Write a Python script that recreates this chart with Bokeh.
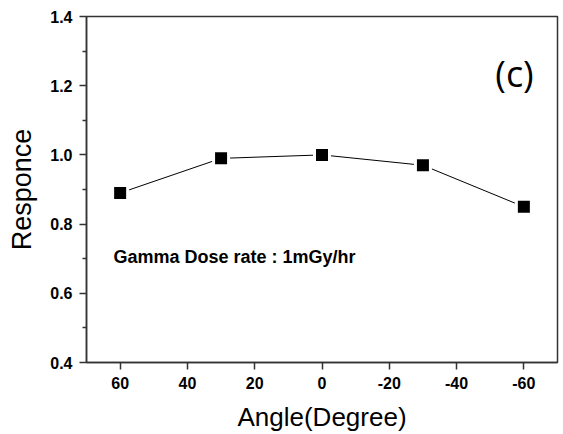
from bokeh.plotting import figure
from bokeh.models import Range1d, FixedTicker, PrintfTickFormatter, Label
from bokeh.embed import file_html
from bokeh.resources import INLINE

angles = [60, 30, 0, -30, -60]
response = [0.89, 0.99, 1.00, 0.97, 0.85]
x_ticks = [60, 40, 20, 0, -20, -40, -60]
y_ticks = [0.4, 0.6, 0.8, 1.0, 1.2, 1.4]
y_minor = [0.5, 0.7, 0.9, 1.1, 1.3]
annotation = "Gamma Dose rate : 1mGy/hr"
panel_tag = "(c)"

p = figure(width=560, height=434, output_backend="svg", toolbar_location=None,
           x_range=Range1d(70, -70), y_range=Range1d(0.4, 1.4),
           min_border_left=86, min_border_top=16, min_border_right=3, min_border_bottom=71)

p.xgrid.visible = False
p.ygrid.visible = False
p.outline_line_color = "#333333"
p.outline_line_width = 1.5
p.outline_line_alpha = 1.0

p.xaxis.ticker = FixedTicker(ticks=x_ticks, minor_ticks=[])
p.yaxis.ticker = FixedTicker(ticks=y_ticks, minor_ticks=y_minor)
p.yaxis.formatter = PrintfTickFormatter(format="%.1f")
p.xaxis.formatter = PrintfTickFormatter(format="%d")

for ax in (p.xaxis[0], p.yaxis[0]):
    ax.axis_line_color = "#333333"
    ax.axis_line_width = 1.5
    ax.major_tick_line_color = "#333333"
    ax.major_tick_line_width = 1.5
    ax.minor_tick_line_color = "#333333"
    ax.minor_tick_line_width = 1.5
    ax.major_tick_out = 7
    ax.major_tick_in = 0
    ax.minor_tick_out = 4
    ax.minor_tick_in = 0
    ax.major_label_text_font = "Liberation Sans"
    ax.major_label_text_font_style = "bold"
    ax.major_label_text_font_size = "16px"
    ax.major_label_text_color = "black"
    ax.axis_label_text_font = "Liberation Sans"
    ax.axis_label_text_font_style = "normal"
    ax.axis_label_text_color = "black"

p.xaxis.axis_label = "Angle(Degree)"
p.yaxis.axis_label = "Responce"
p.xaxis.axis_label_text_font_size = "26px"
p.yaxis.axis_label_text_font_size = "27px"
p.xaxis.major_label_standoff = 7
p.yaxis.major_label_standoff = 7
p.xaxis.axis_label_standoff = 10
p.yaxis.axis_label_standoff = 10

p.line(angles, response, line_color="black", line_width=1)
p.scatter(angles, response, marker="square", size=18, fill_color="white", line_color=None)
p.scatter(angles, response, marker="square", size=12, fill_color="black", line_color=None)

p.add_layout(Label(x=62, y=0.705, text=annotation, text_font="Liberation Sans",
                   text_font_style="bold", text_font_size="18px", text_color="black",
                   text_baseline="middle", text_align="left"))
p.add_layout(Label(x=-51.5, y=1.235, text=panel_tag, text_font="Open Sans",
                   text_font_size="36px", text_color="black",
                   text_baseline="middle", text_align="left"))

open("out.html", "w").write(file_html(p, INLINE))
